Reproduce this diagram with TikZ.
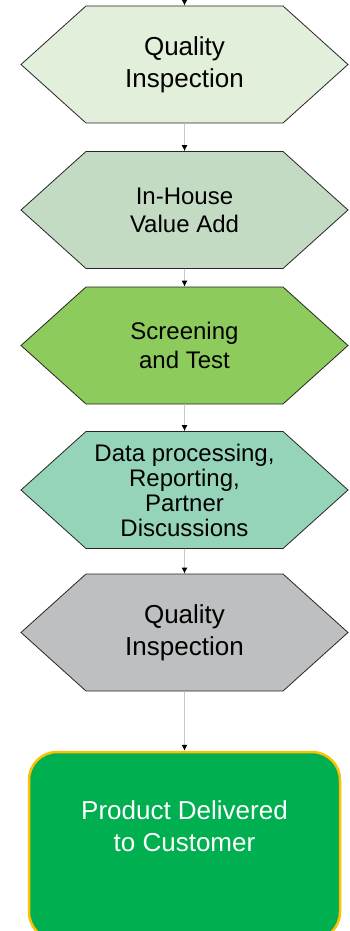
\documentclass[tikz,border=0pt]{standalone}
\usepackage{fontspec}
\setmainfont{Liberation Sans}
\usepackage{tikz}
\usetikzlibrary{arrows.meta, shapes.symbols}

\definecolor{paleGreen}{HTML}{E2EFDA}
\definecolor{sageGreen}{HTML}{C3DAC3}
\definecolor{leafGreen}{HTML}{8DCB5C}
\definecolor{mintGreen}{HTML}{96D4BA}
\definecolor{stoneGrey}{HTML}{BDBFC1}
\definecolor{deliverGreen}{HTML}{00AF50}
\definecolor{deliverGold}{HTML}{FFC000}
\definecolor{flowGrey}{HTML}{C8C8C8}

\begin{document}
\begin{tikzpicture}[x=1pt, y=-1pt,
  hexbox/.style={shape=signal, signal to=east and west, signal pointer angle=84,
    draw=black!85, line width=0.8pt, minimum width=327pt, minimum height=117pt,
    inner sep=0pt, align=center, font=\fontsize{24}{28}\selectfont},
  flow/.style={draw=flowGrey, line width=0.9pt, -{Latex[black, length=6pt, width=6pt]}}]
  \useasboundingbox (0,0) rectangle (349,931);
  \clip (0,0) rectangle (349,931);

  \coordinate (start) at (184.5,-10);
  \node[hexbox, fill=paleGreen, font=\fontsize{26}{32}\selectfont] (quality) at (184.5,64.5) {Quality\\Inspection};
  \node[hexbox, fill=sageGreen] (inhouse) at (184.5,210) {In-House\\Value Add};
  \node[hexbox, fill=leafGreen, font=\fontsize{24}{29}\selectfont] (screen) at (184.5,345.5) {Screening\\and Test};
  \node[hexbox, fill=mintGreen, font=\fontsize{24}{25}\selectfont] (data) at (184.5,490) {Data processing,\\Reporting,\\Partner\\Discussions};
  \node[hexbox, fill=stoneGrey, font=\fontsize{26}{32}\selectfont] (final) at (184.5,632.5) {Quality\\Inspection};

  % delivery box runs off the bottom of the page
  \node[draw=deliverGold, fill=deliverGreen, line width=2.5pt, rounded corners=28pt,
    minimum width=311pt, minimum height=188pt] (deliver) at (184.5,846) {};
  \node[text=white, align=center, font=\fontsize{26}{32}\selectfont] (delivertext) at (184.5,826) {Product Delivered\\to Customer};

  \draw[flow, draw=black] (start) -- (quality);
  \draw[flow] (quality) -- (inhouse);
  \draw[flow] (inhouse) -- (screen);
  \draw[flow] (screen) -- (data);
  \draw[flow] (data) -- (final);
  \draw[flow] (final) -- (deliver);
\end{tikzpicture}
\end{document}
